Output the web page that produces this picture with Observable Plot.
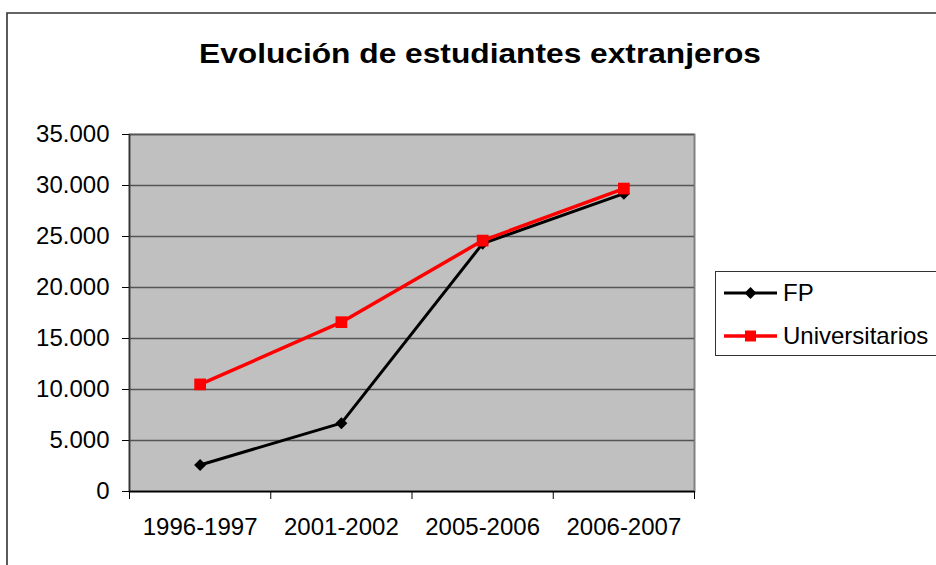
<!DOCTYPE html>
<html>
<head>
<meta charset="utf-8">
<script src="https://cdn.jsdelivr.net/npm/d3@7"></script>
<script src="https://cdn.jsdelivr.net/npm/@observablehq/plot@0.6"></script>
<style>
  html, body { margin: 0; padding: 0; background: #fff; }
  #wrap { position: relative; width: 936px; height: 565px; overflow: hidden; }
  #overlay { position: absolute; left: 0; top: 0; pointer-events: none; }
</style>
</head>
<body>
<div id="wrap"></div>
<script>
const titleText = "Evolución de estudiantes extranjeros";
const categories = ["1996-1997", "2001-2002", "2005-2006", "2006-2007"];
const seriesNames = ["FP", "Universitarios"];
const fpValues = [2600, 6700, 24300, 29200];
const uniValues = [10500, 16600, 24600, 29700];
const yTicks = [0, 5000, 10000, 15000, 20000, 25000, 30000, 35000];

const fmt = d => d === 0 ? "0" : d3.format(",")(d).replace(/,/g, ".");
const fpData = categories.map((c, i) => ({cat: c, pos: i + 0.5, value: fpValues[i]}));
const uniData = categories.map((c, i) => ({cat: c, pos: i + 0.5, value: uniValues[i]}));

const chart = Plot.plot({
  width: 936,
  height: 565,
  marginTop: 134,
  marginRight: 242,
  marginBottom: 74,
  marginLeft: 129,
  style: {fontFamily: "'Liberation Sans', Arial, sans-serif", fontSize: "24px", color: "#000", background: "transparent", overflow: "visible"},
  x: {domain: [0, categories.length], axis: null, label: null},
  y: {domain: [0, 35000], axis: null, label: null},
  marks: [
    Plot.frame({fill: "#C0C0C0", stroke: "#808080", strokeWidth: 2}),
    Plot.ruleY(yTicks, {stroke: "#555555", strokeWidth: 1.3}),
    Plot.axisY({ticks: yTicks, tickFormat: fmt, tickSize: 7, tickPadding: 13, stroke: "#000", fontSize: 24, label: null}),
    Plot.axisX({ticks: d3.range(categories.length + 1), tickFormat: () => "", tickSize: 8, stroke: "#000", label: null}),
    Plot.axisX({ticks: categories.map((c, i) => i + 0.5), tickFormat: d => categories[Math.floor(d)], tickSize: 0, tickPadding: 26, fontSize: 24, label: null}),
    Plot.ruleX([0], {stroke: "#333", strokeWidth: 1.5}),
    Plot.ruleY([0], {stroke: "#000", strokeWidth: 1.5}),
    Plot.line(fpData, {x: "pos", y: "value", stroke: "#000", strokeWidth: 3}),
    Plot.dot(fpData, {x: "pos", y: "value", symbol: "diamond2", fill: "#000", stroke: "none", r: 5.4}),
    Plot.line(uniData, {x: "pos", y: "value", stroke: "#FF0000", strokeWidth: 3.5}),
    Plot.dot(uniData, {x: "pos", y: "value", symbol: "square", fill: "#FF0000", stroke: "none", r: 6.6})
  ]
});
document.getElementById("wrap").appendChild(chart);

// Overlay: outer chart border, title and legend
const ov = d3.select("#wrap").append("svg")
  .attr("id", "overlay").attr("width", 936).attr("height", 565)
  .style("font-family", "'Liberation Sans', Arial, sans-serif");

ov.append("path").attr("d", "M7,566V13H937").attr("fill", "none").attr("stroke", "#333").attr("stroke-width", 1.6);

ov.append("text").attr("x", 480).attr("y", 63).attr("text-anchor", "middle")
  .attr("font-size", 28).attr("font-weight", "bold").attr("fill", "#000")
  .attr("textLength", 562).attr("lengthAdjust", "spacingAndGlyphs")
  .text(titleText);

const lg = ov.append("g");
lg.append("rect").attr("x", 715.5).attr("y", 271.5).attr("width", 260).attr("height", 84)
  .attr("fill", "#fff").attr("stroke", "#333").attr("stroke-width", 1);
const legendItems = [
  {name: seriesNames[0], color: "#000", sym: d3.symbolDiamond2, size: 90, y: 293, w: 3},
  {name: seriesNames[1], color: "#FF0000", sym: d3.symbolSquare, size: 120, y: 336, w: 3.5}
];
legendItems.forEach(it => {
  lg.append("line").attr("x1", 724).attr("x2", 777).attr("y1", it.y).attr("y2", it.y)
    .attr("stroke", it.color).attr("stroke-width", it.w);
  lg.append("path").attr("d", d3.symbol(it.sym, it.size)()).attr("transform", `translate(750.5,${it.y})`).attr("fill", it.color);
  lg.append("text").attr("x", 783).attr("y", it.y).attr("dy", "0.35em").attr("font-size", 24).attr("fill", "#000").text(it.name);
});
</script>
</body>
</html>
